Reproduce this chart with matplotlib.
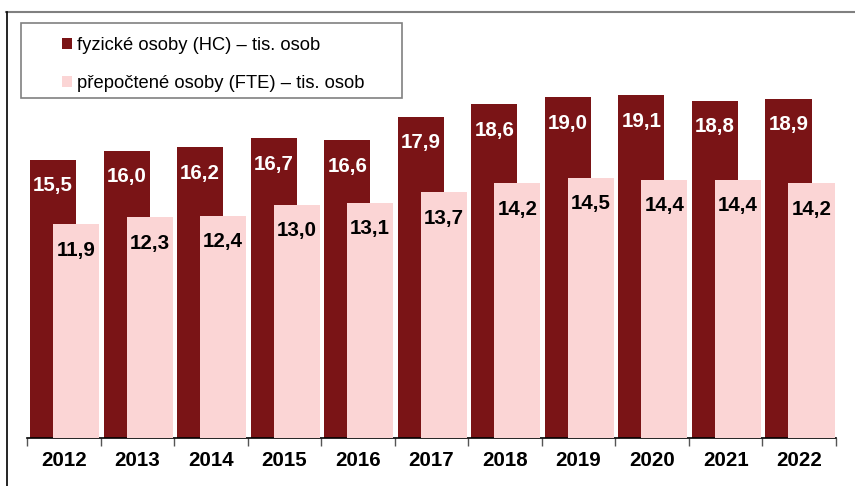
import numpy as np
import matplotlib.pyplot as plt
from matplotlib.patches import Rectangle, Patch
from matplotlib.lines import Line2D

plt.rcParams['font.family'] = ['Liberation Sans', 'DejaVu Sans']

# --- Data ---
years = ['2012', '2013', '2014', '2015', '2016', '2017', '2018', '2019', '2020', '2021', '2022']
hc = [15.5, 16.0, 16.2, 16.7, 16.6, 17.9, 18.6, 19.0, 19.1, 18.8, 18.9]
fte = [11.9, 12.3, 12.4, 13.0, 13.1, 13.7, 14.2, 14.5, 14.4, 14.4, 14.2]
labels = ['fyzické osoby (HC) – tis. osob', 'přepočtené osoby (FTE) – tis. osob']

DARK = '#7a1416'
LIGHT = '#fbd5d5'

W, H = 855, 486
fig = plt.figure(figsize=(W / 100, H / 100), dpi=100)
ax = fig.add_axes([27 / W, 48 / H, 809 / W, 430.6 / H])
ax.patch.set_visible(False)

x = np.arange(len(years))
bw = 0.626
ax.bar(x - 0.146, hc, width=bw, color=DARK, zorder=2)
ax.bar(x + 0.167, fte, width=bw, color=LIGHT, zorder=3)

def fmt(v):
    return f"{v:.1f}".replace('.', ',')

for xi, v in zip(x, hc):
    ax.annotate(fmt(v), (xi - 0.146, v), xytext=(0, -26), textcoords='offset pixels',
                ha='center', va='center', color='white', fontsize=14.8, fontweight='bold', zorder=4)
for xi, v in zip(x, fte):
    ax.annotate(fmt(v), (xi + 0.167, v), xytext=(0, -26), textcoords='offset pixels',
                ha='center', va='center', color='black', fontsize=14.8, fontweight='bold', zorder=4)

ax.set_xlim(-0.5, len(years) - 0.5)
ax.set_ylim(0, 24)
ax.set_yticks([])
for s in ['left', 'top', 'right']:
    ax.spines[s].set_visible(False)
ax.spines['bottom'].set_color('black')
ax.spines['bottom'].set_linewidth(1.2)

ax.set_xticks(x)
ax.set_xticklabels(years, fontsize=14.8, fontweight='bold')
ax.tick_params(axis='x', which='major', length=0, pad=9)
ax.set_xticks(np.arange(len(years) + 1) - 0.5, minor=True)
ax.tick_params(axis='x', which='minor', length=6, color='#555555', width=1)

# legend
handles = [Patch(facecolor=DARK), Patch(facecolor=LIGHT)]
leg = fig.legend(handles, labels, loc='upper left', bbox_to_anchor=(53 / W, 1 - 28 / H),
                 frameon=False, fontsize=13.2, handlelength=0.55, handleheight=0.55,
                 handletextpad=0.25, labelspacing=1.15, borderpad=0)
leg.set_zorder(10)
fig.add_artist(Rectangle((21 / W, 1 - 98 / H), 381 / W, 75 / H, transform=fig.transFigure,
                         facecolor='none', edgecolor='#808080', linewidth=1.2, zorder=9))

# chart frame
fig.add_artist(Line2D([6 / W, 1], [1 - 12 / H] * 2, color='#808080', linewidth=1.5, zorder=9))
fig.add_artist(Line2D([6.5 / W] * 2, [0, 1 - 12 / H], color='black', linewidth=1.2, zorder=9))

fig.savefig('out.png', dpi=100)
